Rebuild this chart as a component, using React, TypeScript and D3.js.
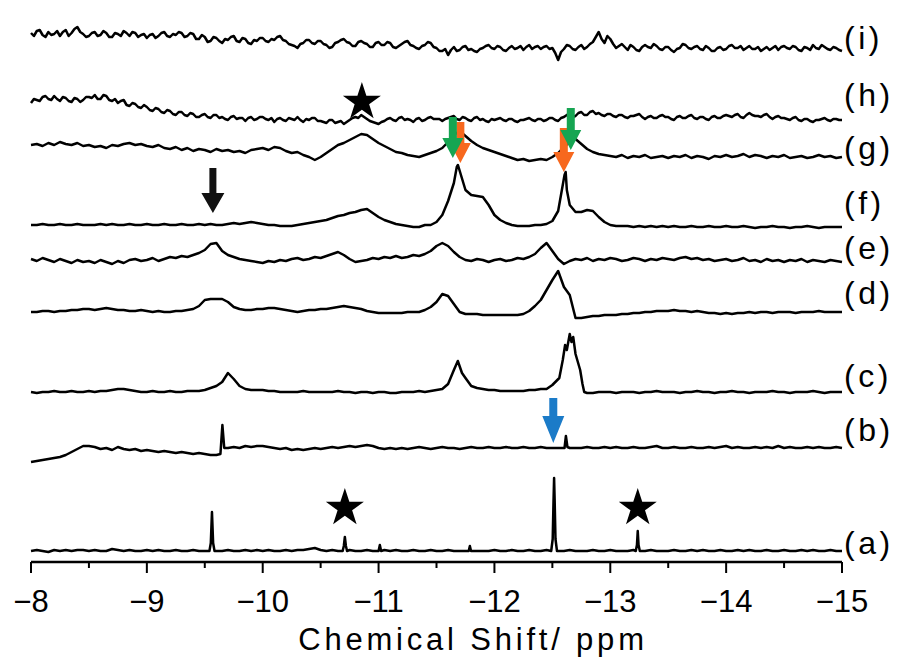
import React from "react";
import * as d3 from "d3";

// ---------- data ----------
const PPM_START = -8;
const PPM_STEP = -0.05; // grid step of the sampled spectra (141 points, -8 … -15 ppm)

const majorTicks = [-8, -9, -10, -11, -12, -13, -14, -15];
const minorTicks = [-8.5, -9.5, -10.5, -11.5, -12.5, -13.5, -14.5];
const tickLabels = ["−8", "−9", "−10", "−11", "−12", "−13", "−14", "−15"];
const xTitle = "Chemical Shift/ ppm";

const spectrumNames = ["(a)", "(b)", "(c)", "(d)", "(e)", "(f)", "(g)", "(h)", "(i)"];
// stacking offset of each trace (intensity units)
const offsets = [11, 114, 170, 250, 302, 337, 405, 442, 517];

// sampled intensities (relative to each trace's offset)
const specA = [
  0, 1, 0, -1, 1, 0, 1, 0, 1, 1,
  0, 1, 0, 0, 2, 1, 0, 1, 0, 0,
  1, 0, 1, 0, 0, 1, 0, 0, 1, 0,
  0, 1, 0, 0, 1, 0, 0, 1, 0, 1,
  0, 1, 0, 0, 1, 0, 1, 1, 2, 3,
  1, 0, 1, 0, 0, 1, 0, 0, 1, 0,
  0, 1, 0, 1, 0, 0, 1, 0, 0, 1,
  0, 0, 1, 0, 0, 0, 1, 0, 0, 0,
  1, 0, 0, 1, 0, 0, 1, 0, 0, 1,
  0, 0, 0, 1, 0, 0, 0, 1, 0, 0,
  1, 0, 0, 0, 1, 0, 0, 1, 0, 0,
  0, 1, 0, 0, 1, 0, 1, 0, 0, 1,
  0, 0, 1, 0, 1, 0, 0, 1, 0, 0,
  1, 0, 0, 1, 0, 1, 0, 0, 1, 0, 0,
];
const specB = [
  -14, -13, -12, -11, -10, -9, -7, -4, -1, 2,
  2, 1, -1, 0, -2, 1, -1, -2, -1, -3,
  -2, -3, -4, -3, -4, -5, -4, -5, -6, -5,
  -6, -7, -7, -5, 0, 1, 0, 2, 1, 2,
  2, 1, 0, -1, 0, -2, -1, -2, -1, 0,
  -1, 0, 1, 0, 1, 2, 1, 2, 3, 2,
  0, -1, 0, -1, 0, -1, 0, 1, 0, -1,
  0, 1, 0, 0, -1, 0, 1, 0, 0, 1,
  0, 0, 1, 0, 0, 1, 0, 0, 1, 0,
  0, 0, 0, 0, 0, 0, 1, 0, 0, 1,
  0, 1, 0, 0, 1, 0, 0, 1, 2, 0,
  0, 1, 0, 0, 1, 0, 0, 1, 0, 1,
  2, 0, 1, 0, 0, 1, 0, 1, 0, 2,
  0, 1, 0, 0, 1, 0, 1, 0, 0, 1, 0,
];
const specC = [
  0, -1, 0, 0, 1, 0, 0, 1, 0, 0,
  1, 0, 1, 1, 2, 3, 3, 2, 1, 0,
  0, 1, 0, 0, 1, 0, 0, 1, 1, 1,
  2, 4, 6, 10, 19, 13, 6, 3, 2, 2,
  2, 1, 1, 0, 0, 0, 0, 1, 0, 0,
  0, 0, 0, 1, 0, 0, -1, 0, 0, -1,
  0, 0, -1, -1, 0, 0, 0, 1, 0, 1,
  2, 3, 8, 22, 30, 14, 6, 4, 3, 2,
  2, 1, 1, 1, 1, 1, 2, 2, 3, 3,
  7, 12, 45, 57, 40, 12, -1, -1, 0, 0,
  0, -1, 0, 0, 0, -1, 0, 0, 1, 0,
  0, 0, -1, 0, 0, 1, 0, 0, -1, 0,
  0, 1, 0, 0, -1, 0, 0, 0, 1, 0,
  0, -1, 0, 0, 0, 1, 0, -1, 0, 0, 0,
];
const specD = [
  0, 0, 1, 1, 0, 1, 1, 2, 2, 3,
  3, 2, 3, 4, 3, 2, 2, 1, 1, 2,
  1, 0, 1, 0, 0, 1, 1, 2, 3, 6,
  12, 13, 13, 13, 10, 5, 3, 2, 2, 3,
  3, 4, 4, 3, 2, 1, 0, 1, 2, 2,
  3, 3, 4, 5, 6, 5, 4, 3, 1, 0,
  -1, -1, -1, -1, -1, 0, 0, 0, 2, 5,
  10, 18, 16, 8, 0, -2, -2, -2, -3, -3,
  -3, -3, -3, -3, -3, -2, 1, 6, 12, 22,
  32, 41, 25, 17, -6, -6, -5, -4, -4, -3,
  -3, -3, -2, -2, -1, -1, 0, 0, 1, 1,
  1, 2, 1, 1, 0, 1, 0, -1, -1, -2,
  -1, -2, -1, -1, 0, -1, 0, 0, -1, 0,
  0, 0, -1, 0, 0, 0, 1, 0, 0, 0, 0,
];
const specE = [
  1, -1, 2, 0, -2, 1, -1, -3, 0, -2,
  -1, -3, 0, -2, -4, -1, -3, 0, 1, -1,
  0, 2, -1, 1, 3, 2, 4, 3, 5, 7,
  10, 16, 17, 9, 5, 3, 1, 0, -1, -2,
  -3, -1, -2, 0, -1, 1, 2, 0, 1, 3,
  2, 4, 6, 8, 5, 1, -2, -1, 0, 2,
  1, 3, 2, 4, 2, 3, 5, 4, 6, 9,
  14, 17, 14, 8, 3, 0, -1, 1, 0, -2,
  0, 1, -1, 0, 2, 1, 3, 6, 12, 17,
  9, 1, -4, -1, 1, 0, 2, -1, 1, 0,
  2, 1, -1, 0, 2, 1, -1, 1, 0, 2,
  1, 0, 2, 3, 1, 2, 0, 1, -1, 0,
  1, -1, 0, 2, -1, 0, -2, 1, -1, 0,
  -2, 0, -1, 1, -2, 0, -1, -2, 0, -1, -2,
];
const specF = [
  0, 0, 1, 0, 0, 1, 0, 0, 1, 0,
  0, 0, 1, 0, 1, 0, 0, 1, 0, 0,
  1, 0, 0, 1, 0, 0, 1, 0, 0, 1,
  0, 1, 0, 0, 1, 2, 1, 2, 3, 2,
  1, 0, 0, -1, -1, -1, 0, 1, 2, 3,
  4, 5, 7, 9, 10, 12, 13, 15, 16, 12,
  8, 5, 3, 1, 0, -1, -2, -2, 0, 0,
  3, 10, 24, 42, 50, 35, 30, 29, 28, 20,
  10, 5, 2, 0, -1, -1, -1, 0, 0, 1,
  4, 14, 50, 20, 13, 13, 15, 14, 8, 3,
  0, -1, -1, -1, -2, -1, -2, -1, -2, -1,
  -2, -1, -2, -2, -1, -2, -2, -1, -2, -2,
  -1, -2, -2, -1, -2, -3, -2, -2, -1, -2,
  -2, -3, -2, -2, -1, -2, -3, -2, -2, -2, -2,
];
const specG = [
  12, 13, 11, 14, 12, 15, 13, 12, 14, 11,
  12, 10, 11, 9, 12, 11, 13, 14, 12, 13,
  11, 10, 12, 9, 8, 10, 7, 9, 6, 8,
  7, 5, 8, 6, 7, 5, 6, 4, 7, 8,
  9, 7, 10, 9, 6, 4, 5, 2, 0, -3,
  0, 4, 8, 12, 14, 17, 20, 23, 22, 18,
  14, 11, 8, 5, 4, 2, 1, 0, 2, 4,
  6, 9, 15, 22, 26, 21, 16, 12, 9, 7,
  5, 3, 1, -1, -3, -2, -4, -3, -2, -3,
  0, 4, 10, 15, 18, 13, 8, 5, 3, 2,
  1, 0, 2, -1, 1, 0, 2, -1, 0, 1,
  -1, 1, 0, 2, -1, 1, 0, -2, 1, 0,
  2, 0, 1, 3, 0, 2, 1, -1, 1, 0,
  2, -1, 0, 1, -1, 0, 2, 0, 1, -1, 0,
];
const specH = [
  17, 20, 23, 21, 24, 19, 22, 18, 21, 20,
  23, 25, 21, 24, 19, 17, 20, 14, 16, 12,
  13, 9, 11, 7, 9, 5, 8, 4, 6, 3,
  6, 2, 5, 3, 0, 4, 2, -1, 3, 1,
  3, 0, -2, 2, -1, 1, 3, -2, 0, 2,
  -1, -3, 0, -2, -4, 0, 3, 5, 1, -2,
  -4, -1, 2, -1, 3, 1, -2, 2, 0, 3,
  1, -1, 2, 4, 0, 2, -1, 3, 1, -2,
  0, 2, -1, 1, -2, 0, 2, -1, 1, 0,
  2, -1, 3, 6, 4, 8, 5, 9, 7, 4,
  6, 3, 5, 2, 4, 6, 1, 4, 2, 5,
  3, 0, 4, 2, 5, 1, 3, 0, 4, 2,
  5, 3, 6, 2, 7, 4, 3, 6, 1, 4,
  2, 0, 3, -1, 1, -2, 0, 2, -1, 1, 0,
];
const specI = [
  12, 14, 10, 13, 11, 9, 15, 12, 18, 11,
  9, 13, 10, 12, 8, 11, 14, 9, 12, 10,
  7, 11, 9, 13, 8, 10, 12, 9, 11, 6,
  8, 4, 7, 2, 5, 9, 3, 6, 1, 4,
  7, 3, 5, 9, 4, 0, -3, 2, 5, 1,
  4, 0, -2, 3, 6, 2, -1, 4, 1, -2,
  3, 0, 2, -3, 1, 4, -1, -4, 0, 2,
  -3, -6, -10, -2, -5, -1, -4, -7, -3, 0,
  -4, -2, -6, -1, -3, -5, 0, -2, -4, -1,
  -3, -15, -4, -1, -5, 0, -2, 3, 13, 2,
  6, -3, 1, -5, -2, -6, 0, -3, -1, -5,
  -2, -7, -3, 0, -4, -1, -5, -3, -6, -2,
  -4, 0, -3, -5, -1, -4, -6, -2, -3, -5,
  -1, -4, -2, -6, -3, 0, -4, -2, -5, -3, -6,
];

// in-between samples (at the half-steps) for the two noisiest traces
const midH = [
  21, 19, 24, 20, 21, 23, 19, 22, 18, 23,
  22, 21, 25, 20, 21, 19, 15, 17, 13, 15,
  10, 12, 8, 10, 6, 8, 5, 7, 3, 5,
  3, 5, 2, 1, 3, 1, 2, 2, 0, 3,
  1, 2, 1, 0, 2, 0, 0, 1, 2, -1,
  -2, 0, -3, -1, -2, 2, 2, 3, -1, -3,
  -2, 1, 0, 2, 0, 0, 1, -1, 2, 1,
  1, 1, 3, 1, 3, 0, 2, 0, -1, 1,
  1, 0, 1, -1, 0, 1, 0, 1, -1, 2,
  0, 2, 5, 3, 7, 5, 8, 6, 5, 6,
  4, 5, 3, 4, 5, 3, 3, 2, 4, 3,
  1, 3, 2, 4, 2, 3, 1, 3, 2, 4,
  4, 5, 3, 5, 5, 4, 5, 3, 3, 2,
  1, 2, 0, 1, -1, 0, 1, 0, 1, 0,
];
const midI = [
  9, 15, 8, 10, 14, 13, 9, 16, 13, 8,
  12, 9, 14, 8, 12, 9, 12, 13, 8, 11,
  10, 7, 12, 9, 11, 13, 8, 12, 6, 10,
  3, 8, 4, 6, 8, 4, 7, 2, 5, 7,
  4, 6, 8, 5, 1, -1, 1, 5, 2, 4,
  1, -3, 2, 5, 3, -1, 3, 2, -2, 2,
  0, 3, -2, -1, 3, 0, -3, -1, 3, -2,
  -6, -4, -5, -6, -2, -5, -6, -4, -1, -3,
  -1, -5, -3, -4, -1, -2, -4, -1, -2, -4,
  -8, -7, 0, -4, -2, -4, 1, 8, 6, 9,
  1, -1, -2, 0, -5, -2, -2, 1, -4, -2,
  -5, -4, 1, -3, -2, -4, -1, -6, -3, -5,
  -1, -3, -1, -3, -4, -2, -4, -5, -1, -2,
  -3, -1, -5, -2, -5, -3, 0, -4, -2, -5,
];

// sharp lines resolved more finely than the grid: [ppm, intensity]
const extraA: [number, number][] = [
  [-9.54, 0], [-9.552, 8], [-9.562, 39], [-9.572, 8], [-9.584, 0],
  [-10.69, 0], [-10.7, 5], [-10.709, 14], [-10.718, 5], [-10.728, 0],
  [-11.0, 0], [-11.011, 6], [-11.022, 0],
  [-11.778, 0], [-11.788, 5], [-11.798, 0],
  [-12.49, 0], [-12.503, 12], [-12.51, 50], [-12.515, 73], [-12.52, 50], [-12.527, 12], [-12.54, 0],
  [-13.22, 0], [-13.23, 6], [-13.237, 20], [-13.244, 6], [-13.255, 0],
];
const extraB: [number, number][] = [
  [-9.635, -6], [-9.652, 23], [-9.668, 0],
  [-12.605, 0], [-12.617, 12], [-12.63, 1],
];
const extraC: [number, number][] = [
  [-11.684, 31], [-11.72, 19],
  [-12.56, 14], [-12.59, 32], [-12.61, 47], [-12.625, 42], [-12.65, 58], [-12.665, 50],
  [-12.68, 55], [-12.7, 38], [-12.72, 30], [-12.74, 22], [-12.76, 8], [-12.775, 0],
];
const extraF: [number, number][] = [
  [-11.675, 58], [-11.685, 60],
  [-12.605, 50], [-12.615, 53], [-12.625, 35],
];

const spectra = [specA, specB, specC, specD, specE, specF, specG, specH, specI];
const mids: number[][] = [[], [], [], [], [], [], [], midH, midI];
const extras: [number, number][][] = [extraA, extraB, extraC, [], [], extraF, [], [], []];

// annotations (ppm, stacked intensity units)
const stars = [
  { ppm: -10.856, value: 460 },
  { ppm: -10.709, value: 54 },
  { ppm: -13.237, value: 54 },
];
const arrows = [
  { ppm: -9.57, top: 394, tip: 349, color: "#111111" },
  { ppm: -11.706, top: 440, tip: 399, color: "#f7681e" },
  { ppm: -12.599, top: 434, tip: 390, color: "#f7681e" },
  { ppm: -11.641, top: 445, tip: 404, color: "#16a552" },
  { ppm: -12.659, top: 454, tip: 412, color: "#16a552" },
  { ppm: -12.508, top: 164, tip: 119, color: "#1b7bc8" },
];

// ---------- layout ----------
const W = 900;
const H = 666;
const PLOT_LEFT = 31;
const PLOT_RIGHT = 842;
const AXIS_Y = 562;
const labelShift = [-3, 7, 5, 8, 1, 11, -2, 14, -4];

function buildPoints(grid: number[], mid: number[], extra: [number, number][]): [number, number][] {
  const pts: [number, number][] = [];
  const keep = (p: number) => !extra.some((e) => Math.abs(e[0] - p) < 0.018);
  grid.forEach((v, k) => {
    const p = PPM_START + k * PPM_STEP;
    if (keep(p)) pts.push([p, v]);
  });
  mid.forEach((v, k) => {
    const p = PPM_START + (k + 0.5) * PPM_STEP;
    if (keep(p)) pts.push([p, v]);
  });
  extra.forEach((e) => pts.push(e));
  pts.sort((a, b) => b[0] - a[0]);
  return pts;
}

function arrowPath(cx: number, top: number, tip: number, sw: number, hw: number, hl: number) {
  const b = tip - hl;
  return `M${cx - sw / 2},${top}L${cx + sw / 2},${top}L${cx + sw / 2},${b}L${cx + hw / 2},${b}L${cx},${tip}L${cx - hw / 2},${b}L${cx - sw / 2},${b}Z`;
}

export default function App() {
  const x = d3.scaleLinear().domain([-8, -15]).range([PLOT_LEFT, PLOT_RIGHT]);
  const y = d3.scaleLinear().domain([0, AXIS_Y]).range([AXIS_Y, 0]);
  const starPath = d3.symbol(d3.symbolStar, 449)() as string;

  return (
    <div style={{ position: "absolute", left: 0, top: 0, width: W, height: H, background: "#fff" }}>
      <svg width={W} height={H} style={{ display: "block" }}>
        <rect width={W} height={H} fill="#fff" />
        {spectra.map((grid, i) => {
          const pts = buildPoints(grid, mids[i], extras[i]);
          const line = d3
            .line<[number, number]>()
            .x((d) => x(d[0]))
            .y((d) => y(d[1] + offsets[i]));
          return (
            <path
              key={"s" + i}
              d={line(pts) as string}
              fill="none"
              stroke="#000"
              strokeWidth={2.5}
              strokeLinejoin="round"
            />
          );
        })}
        {spectrumNames.map((n, i) => (
          <text
            key={"l" + i}
            x={844}
            y={y(offsets[i] + labelShift[i])}
            fontFamily="Liberation Sans, Arial, sans-serif"
            fontSize={32}
            letterSpacing={3.5}
            fill="#000"
          >
            {n}
          </text>
        ))}
        {arrows.map((a, i) => {
          const cx = x(a.ppm);
          const blue = a.color === "#1b7bc8";
          const black = a.color === "#111111";
          return (
            <path
              key={"a" + i}
              d={arrowPath(cx, y(a.top), y(a.tip), black ? 7 : 8, black ? 23 : blue ? 22 : 21, blue ? 27 : 20)}
              fill={a.color}
            />
          );
        })}
        {stars.map((s, i) => (
          <path key={"st" + i} d={starPath} transform={`translate(${x(s.ppm)},${y(s.value)})`} fill="#000" />
        ))}
        {/* axis */}
        <line x1={PLOT_LEFT} x2={PLOT_RIGHT} y1={AXIS_Y} y2={AXIS_Y} stroke="#000" strokeWidth={2.5} />
        {majorTicks.map((t, i) => (
          <g key={"t" + i}>
            <line x1={x(t)} x2={x(t)} y1={AXIS_Y} y2={AXIS_Y + 11} stroke="#000" strokeWidth={2} />
            <text
              x={x(t)}
              y={612}
              textAnchor="middle"
              fontFamily="Liberation Sans, Arial, sans-serif"
              fontSize={31}
              fill="#000"
            >
              {tickLabels[i]}
            </text>
          </g>
        ))}
        {minorTicks.map((t, i) => (
          <line key={"m" + i} x1={x(t)} x2={x(t)} y1={AXIS_Y} y2={AXIS_Y + 6} stroke="#000" strokeWidth={2} />
        ))}
        <text
          x={473}
          y={650}
          textAnchor="middle"
          fontFamily="Liberation Sans, Arial, sans-serif"
          fontSize={31}
          letterSpacing={3.8}
          fill="#000"
        >
          {xTitle}
        </text>
      </svg>
    </div>
  );
}
